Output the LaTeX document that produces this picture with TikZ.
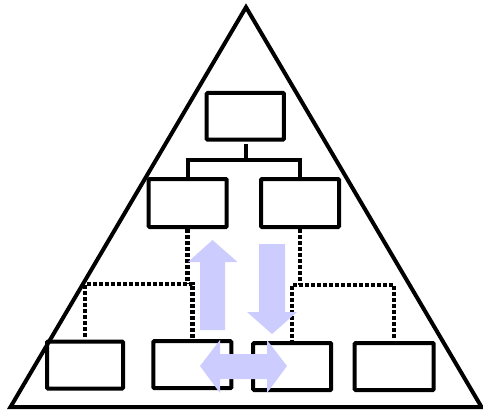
\documentclass[tikz,border=0pt]{standalone}
\usetikzlibrary{positioning}
\definecolor{arrowblue}{RGB}{204,204,255}

\begin{document}
\begin{tikzpicture}[x=1bp, y=-1bp, line width=4bp,
                    unit/.style={draw, rectangle, rounded corners=1bp, inner sep=0, minimum width=78bp, minimum height=47bp},
                    dotline/.style={line width=4.5bp, dash pattern=on 4bp off 2bp},
                    bigarrow/.style={fill=arrowblue, draw=none}]
                    \useasboundingbox (0,0) rectangle (483,409);
                    \coordinate (apex) at (246,7.2);
                    \coordinate (bl) at (10.5,407);
                    \coordinate (br) at (481.5,407);
                    \draw (apex) -- (bl) -- (br) -- cycle;
                    \node[unit, minimum width=77.3bp, minimum height=46.7bp] (top) at (245.3,116.3) {};
                    \node[unit, minimum height=48bp] (midL) at (187.7,203) {};
                    \node[unit, minimum height=48bp] (midR) at (300,203) {};
                    \node[unit, minimum width=76bp] (b1) at (85,365) {};
                    \node[unit] (b2) at (192.3,364.7) {};
                    \node[unit] (b3) at (292.2,366.5) {};
                    \node[unit, minimum width=79bp] (b4) at (394.2,366.5) {};
                    \coordinate (bus) at (246.3,160.3);
                    \draw[shorten <=2.5bp] (top.south -| bus) -- (bus);
                    \draw (midL.north) |- (bus) -| (midR.north);
                    \coordinate (splitL) at (192.3,284);
                    \coordinate (splitR) at (292.2,285);
                    \draw[dotline] (midL.south) -- (midL.south |- splitL);
                    \draw[dotline, shorten <=3bp] (b1.north) |- (splitL) -- ([yshift=-3bp]b2.north);
                    \draw[dotline] (midR.south) -- (midR.south |- splitR);
                    \draw[dotline, shorten <=3bp] (b4.north) |- (splitR) -- ([yshift=-3bp]b3.north);
                    % up, down and both ways
                    \fill[bigarrow] (200,330) -- (200,262) -- (188,262) -- (212.5,240) -- (237.5,262) -- (225,262) -- (225,330) -- cycle;
                    \fill[bigarrow] (259,244) -- (259,312) -- (247,312) -- (272,334) -- (297,312) -- (285,312) -- (285,244) -- cycle;
                    \fill[bigarrow] (200,366) -- (220,340) -- (220,354) -- (267,354) -- (267,340) -- (287,366) -- (267,393) -- (267,379) -- (220,379) -- (220,393) -- cycle;
                \end{tikzpicture}
\end{document}
